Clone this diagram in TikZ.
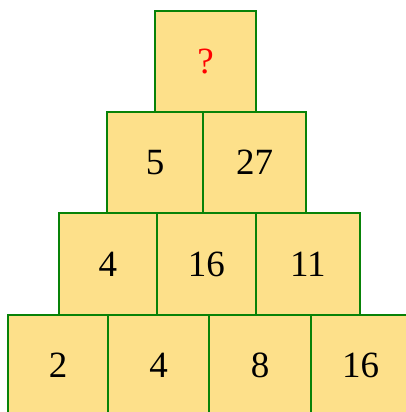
\documentclass[tikz,border=0pt]{standalone}
\usepackage{fontspec}
\setmainfont{Liberation Serif}
\usetikzlibrary{positioning}
\definecolor{pyrfill}{HTML}{FDE08A}
\definecolor{pyrline}{HTML}{088208}

\begin{document}
\begin{tikzpicture}[
  x=1pt, y=1pt,
  cell/.style={draw=pyrline, line width=2pt, fill=pyrfill, minimum width=#1, minimum height=101.3pt, inner sep=0pt, outer sep=0pt, font=\fontsize{37}{39}\selectfont},
  cell/.default=100.8pt
]
\useasboundingbox (0,0) rectangle (405,-412);
% bottom row
\node[cell=99.4pt] (a1) at (58,-365.4) {2};
\node[cell=101.6pt, right=0pt of a1] (a2) {4};
\node[cell=101.4pt, right=0pt of a2] (a3) {8};
\node[cell=100pt, right=0pt of a3] (a4) {16};
% third row
\node[cell=97.2pt] (b1) at (107.9,-264) {4};
\node[cell=99.5pt, right=0pt of b1] (b2) {16};
\node[cell=103.7pt, right=0pt of b2] (b3) {11};
% second row
\node[cell=96.6pt] (c1) at (155,-162.5) {5};
\node[cell=102.4pt, right=0pt of c1] (c2) {27};
% top
\node[cell=100.4pt] (d1) at (205.5,-61.2) {\color{red}?};
\end{tikzpicture}
\end{document}
